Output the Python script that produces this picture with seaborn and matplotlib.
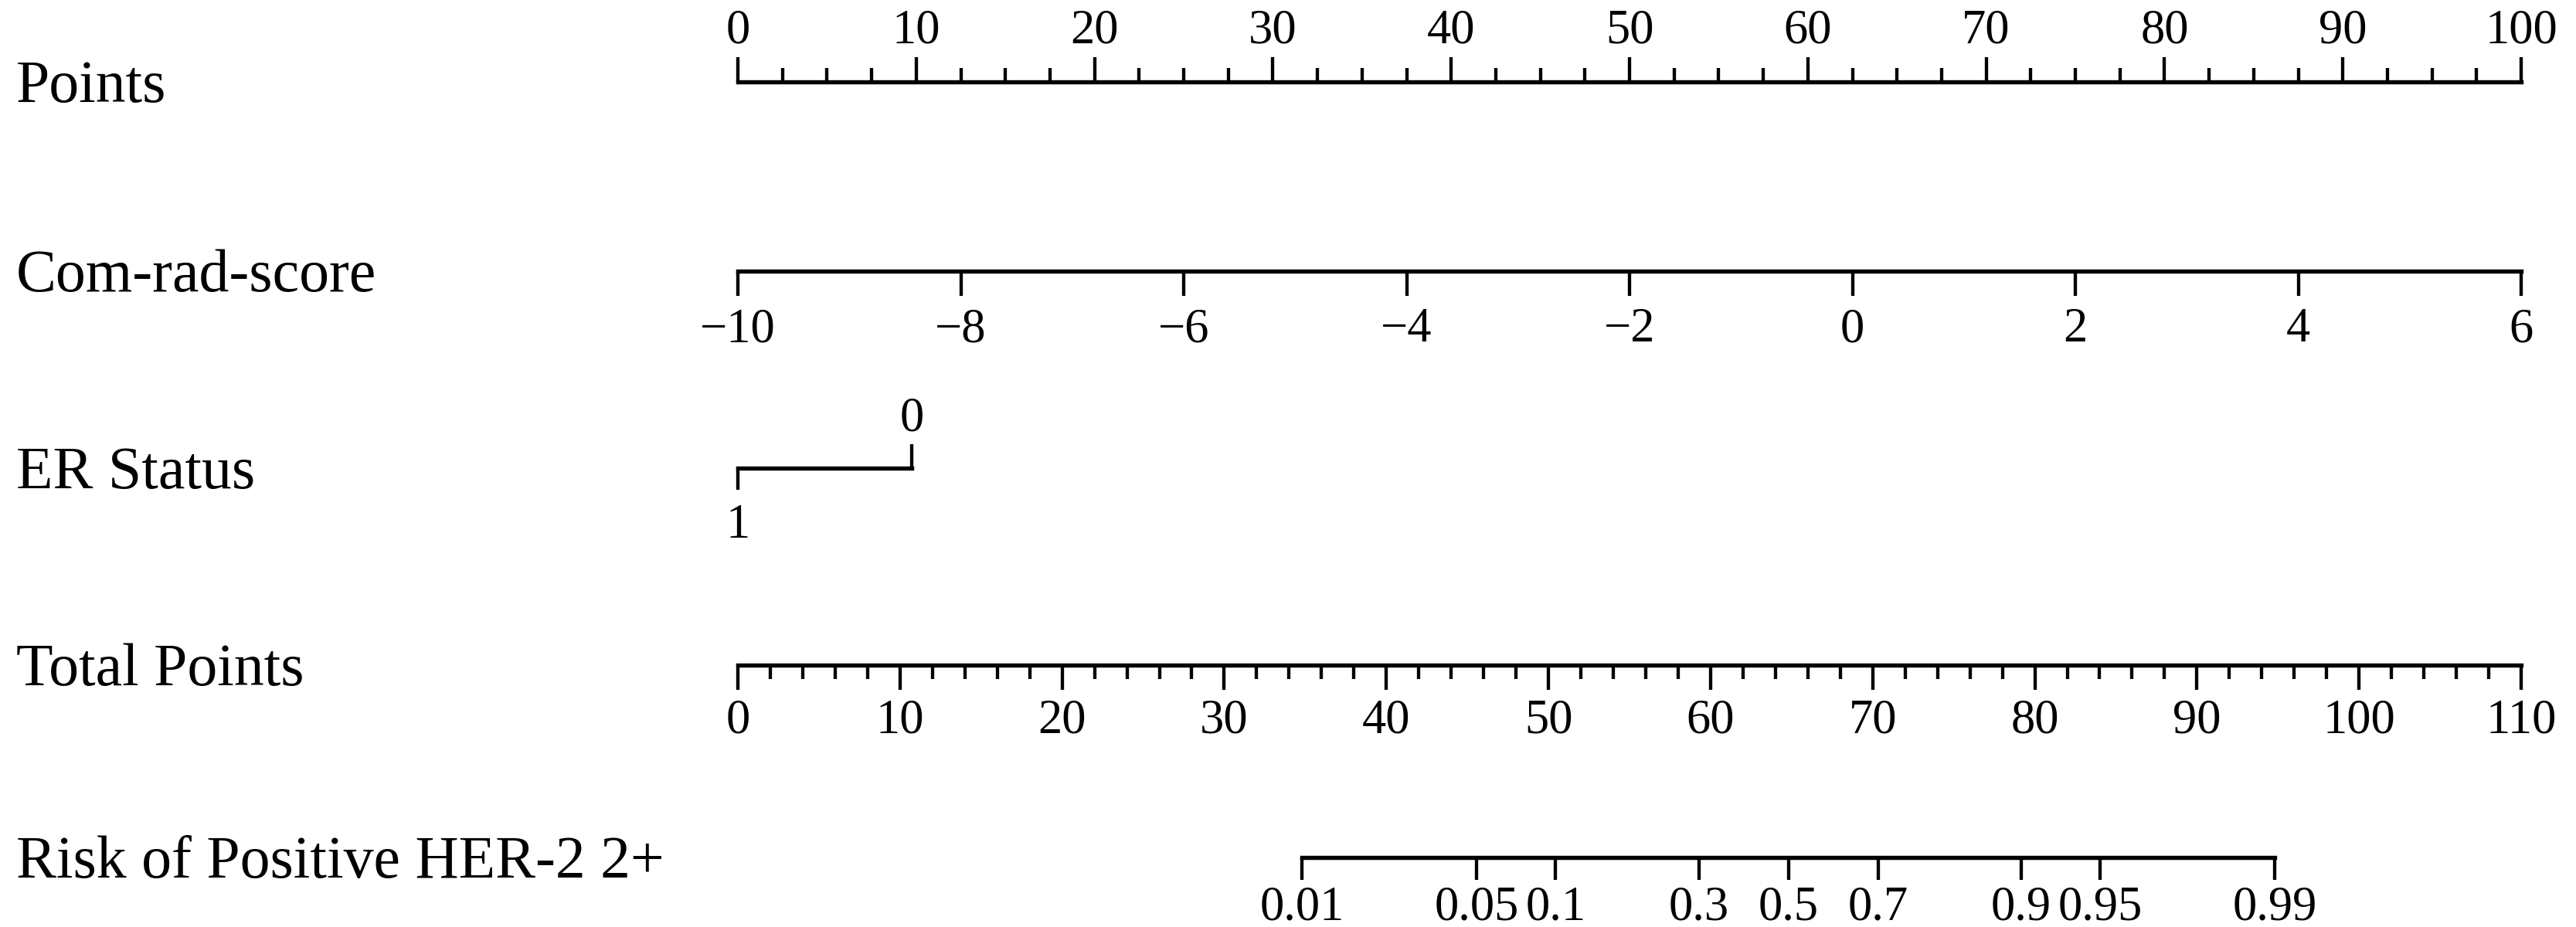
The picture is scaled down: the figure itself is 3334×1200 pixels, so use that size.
import numpy as np
import matplotlib.pyplot as plt
import seaborn as sns

sns.set_theme(style="white")
plt.rcParams["font.family"] = ["Liberation Serif", "DejaVu Serif"]

# nomogram rows
row_labels = ["Points", "Com-rad-score", "ER Status", "Total Points", "Risk of Positive HER-2 2+"]

points_ticks = np.arange(0, 101, 10)
points_minor = np.arange(0, 101, 2.5)

score_ticks = [-10, -8, -6, -4, -2, 0, 2, 4, 6]
score_range = (-10, 6)          # spans 0..100 points

er_levels = ["1", "0"]
er_points = [0.0, 9.75]         # points given to each ER level

total_ticks = np.arange(0, 111, 10)
total_minor = np.arange(0, 111, 2)

risk_ticks = [0.01, 0.05, 0.1, 0.3, 0.5, 0.7, 0.9, 0.95, 0.99]
risk_labels = ["0.01", "0.05", "0.1", "0.3", "0.5", "0.7", "0.9", "0.95", "0.99"]
risk_mid_total = 64.8           # total points where risk = 0.5
risk_slope = 0.1531             # logit change per total point

# layout (figure pixels)
W_PX, H_PX = 3334, 1200
row_y = [106, 351, 606, 861, 1110]
x0_px, x1_px = 955, 3263
LW = 3.9
TICK_FS = 45
LABEL_FS = 56

fig = plt.figure(figsize=(W_PX / 100, H_PX / 100), dpi=100)
fig.patch.set_facecolor("white")


def row_axes(y_px):
    ax = fig.add_axes([x0_px / W_PX, 1 - y_px / H_PX, (x1_px - x0_px) / W_PX, 1e-4])
    ax.set_facecolor("none")
    ax.yaxis.set_visible(False)
    for s in ax.spines.values():
        s.set_linewidth(LW)
        s.set_color("black")
    return ax


def style_ticks(ax, top, pad, length=23, minor_len=13):
    ax.tick_params(axis="x", which="both", bottom=not top, top=top,
                   labelbottom=not top, labeltop=top)
    ax.tick_params(axis="x", which="major", direction="out", length=length, width=LW * 0.8,
                   color="black", labelsize=TICK_FS, pad=pad, labelcolor="black")
    ax.tick_params(axis="x", which="minor", direction="out", length=minor_len, width=LW * 0.8,
                   color="black")


# Points
ax = row_axes(row_y[0])
ax.set_xlim(0, 100)
sns.despine(ax=ax, left=True, right=True, bottom=True, top=False)
ax.set_xticks(points_ticks)
ax.set_xticks(points_minor, minor=True)
style_ticks(ax, True, pad=3)

# Com-rad-score
ax = row_axes(row_y[1])
ax.set_xlim(*score_range)
sns.despine(ax=ax, left=True, right=True, top=True, bottom=False)
ax.set_xticks(score_ticks)
style_ticks(ax, False, pad=11)

# ER Status
ax = row_axes(row_y[2])
ax.set_xlim(0, 100)
sns.despine(ax=ax, left=True, right=True, top=True, bottom=False)
ax.spines["bottom"].set_bounds(er_points[0], er_points[1])
ax.set_xticks([er_points[0]])
ax.set_xticklabels([er_levels[0]])
style_ticks(ax, False, pad=13, length=20)
sec = ax.secondary_xaxis("top")
sec.spines["top"].set_visible(False)
sec.set_xticks([er_points[1]])
sec.set_xticklabels([er_levels[1]])
sec.tick_params(axis="x", top=True, labeltop=True, direction="out", length=22,
                width=LW * 0.8, color="black", labelsize=TICK_FS, pad=3, labelcolor="black")

# Total Points
ax = row_axes(row_y[3])
ax.set_xlim(0, 110)
sns.despine(ax=ax, left=True, right=True, top=True, bottom=False)
ax.set_xticks(total_ticks)
ax.set_xticks(total_minor, minor=True)
style_ticks(ax, False, pad=8)

# Risk
ax = row_axes(row_y[4])
ax.set_xlim(0, 110)
sns.despine(ax=ax, left=True, right=True, top=True, bottom=False)
p = np.array(risk_ticks)
risk_pos = risk_mid_total + np.log(p / (1 - p)) / risk_slope
ax.spines["bottom"].set_bounds(risk_pos[0], risk_pos[-1])
ax.set_xticks(risk_pos)
ax.set_xticklabels(risk_labels)
style_ticks(ax, False, pad=5, length=21)

# row labels
for label, y in zip(row_labels, row_y):
    fig.text(21 / W_PX, 1 - (y + 7) / H_PX, label, fontsize=LABEL_FS, va="center", ha="left",
             color="black")

fig.savefig("out.png", dpi=100)
